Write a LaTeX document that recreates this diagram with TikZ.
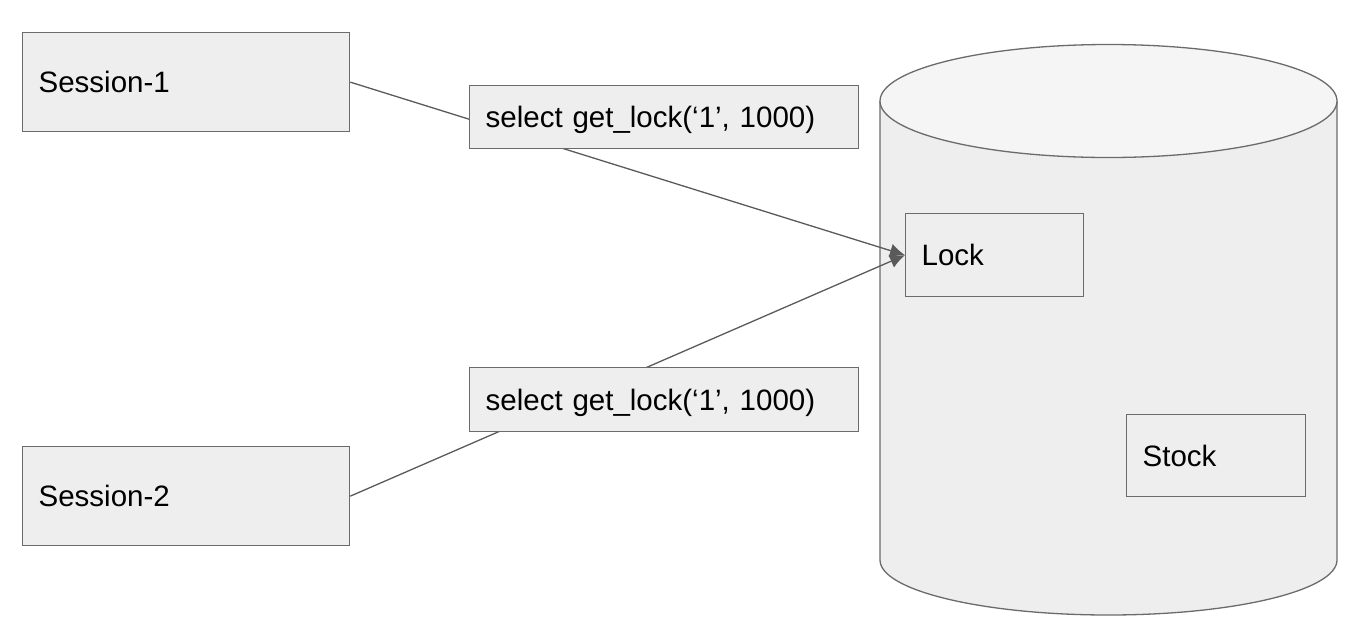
\documentclass[tikz,border=0pt]{standalone}
\usepackage{fontspec}
\setmainfont{Liberation Sans}
\usetikzlibrary{arrows.meta}
\definecolor{boxfill}{HTML}{EEEEEE}
\definecolor{topfill}{HTML}{F5F5F5}
\definecolor{edgegray}{HTML}{6B6B6B}
\definecolor{linegray}{HTML}{5A5A5A}
\begin{document}
\begin{tikzpicture}[x=1pt,y=-1pt,
  box/.style={draw=edgegray, fill=boxfill, line width=1.3pt, anchor=north west,
    inner xsep=16pt, inner ysep=0pt, align=left, text height=21pt, text depth=0pt,
    font=\fontsize{29.5}{34}\selectfont},
  conn/.style={draw=linegray, line width=1.3pt, -{Latex[length=15pt,width=14pt]}}]
\useasboundingbox (0,0) rectangle (1347,619);
% cylinder
\path[fill=boxfill, draw=edgegray, line width=1.3pt]
  (880,101) -- (880,560) arc[start angle=180, end angle=360, x radius=228.5pt, y radius=55pt]
  -- (1337,101);
\path[fill=topfill, draw=edgegray, line width=1.3pt]
  (1108.5,101) ellipse[x radius=228.5pt, y radius=56.5pt];
% nodes
\node[box, text width=295pt, minimum height=99pt] (s1) at (22,32) {Session-1};
\node[box, text width=295pt, minimum height=99pt] (s2) at (22,446) {Session-2};
\node[box, text width=146pt, minimum height=83pt] (lock) at (905,213) {Lock};
\node[box, text width=147pt, minimum height=82pt] (stock) at (1126,414) {Stock};
% connectors
\draw[conn] (s1.east) -- (lock.west);
\draw[conn] (s2.east) -- (lock.west);
% labels on the connectors
\node[box, text width=357pt, minimum height=63pt] (q1) at (469,85) {select get\_lock(‘1’, 1000)};
\node[box, text width=357pt, minimum height=64pt] (q2) at (469,367) {select get\_lock(‘1’, 1000)};
\end{tikzpicture}
\end{document}
